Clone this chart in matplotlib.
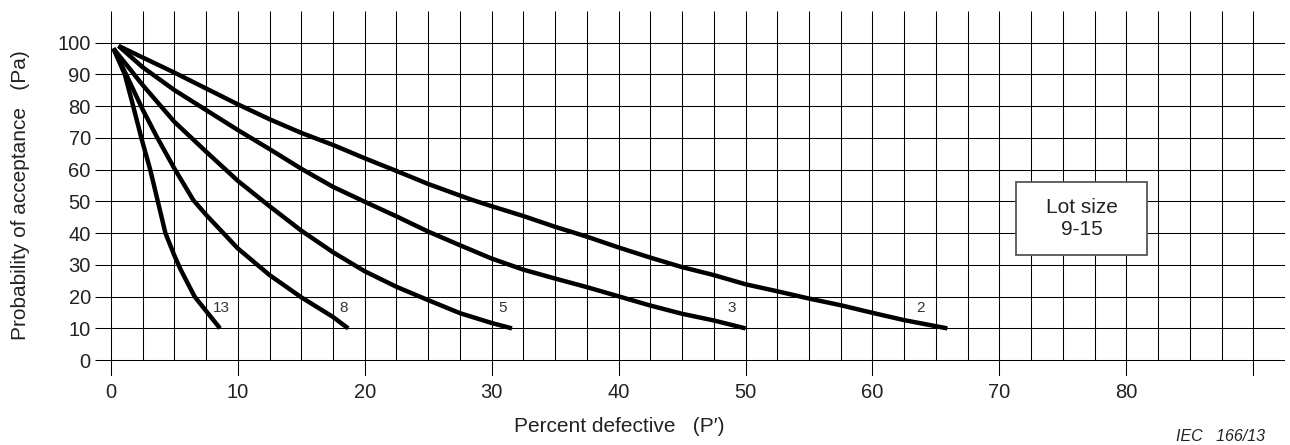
import matplotlib
matplotlib.use("Agg")
import matplotlib.pyplot as plt
from matplotlib.patches import Rectangle

plt.rcParams['font.family'] = ['Liberation Sans', 'DejaVu Sans']

TEXT = '#222222'

# operating characteristic curves, sample size -> (percent defective, Pa)
curve_2_x = [0.6, 5, 7.5, 10, 12.5, 15, 17.5, 20, 22.5, 25, 28.3, 30, 32.5, 35,
             37.5, 40, 42.5, 45, 47.5, 50, 52.5, 55, 57.5, 60, 62.5, 65.9]
curve_2_y = [99, 90.6, 85.6, 80.6, 75.9, 71.6, 67.8, 63.6, 59.6, 55.5, 50.7, 48.5, 45.4, 42,
             38.9, 35.5, 32.3, 29.3, 26.8, 23.9, 21.7, 19.4, 17.3, 14.9, 12.6, 10]

curve_3_x = [0.6, 2.5, 5, 7.5, 10, 12.5, 15, 17.5, 20, 22.5, 25, 27.5, 30, 32.5,
             35, 37.5, 40, 42.5, 45, 47.5, 50]
curve_3_y = [99, 92.3, 85.1, 78.8, 72.5, 66.5, 60.3, 54.6, 49.9, 45.3, 40.5, 36.2, 32, 28.5,
             25.7, 23, 20.1, 17.2, 14.6, 12.5, 10]

curve_5_x = [0.2, 2.5, 5, 7.5, 10, 12.5, 15, 17.5, 20, 22.5, 25, 27.5, 30, 31.6]
curve_5_y = [98.2, 86.7, 75.1, 65.7, 56.5, 48.5, 40.8, 34, 28, 23.1, 18.9, 14.8, 11.7, 10]

curve_8_x = [0.2, 1.2, 2.5, 3.6, 5, 6.5, 7.5, 10, 12.5, 15, 17.5, 18.7]
curve_8_y = [98.2, 90, 79, 70.5, 60.4, 50.4, 45.8, 35.2, 26.8, 19.8, 13.6, 10]

curve_13_x = [0.2, 1.1, 1.76, 2.4, 3.1, 3.7, 4.3, 5.0, 5.5, 6.6, 8.6]
curve_13_y = [98.2, 90, 80, 70, 60, 50, 40, 33, 28.5, 20, 10]

curves = [
    ('2', curve_2_x, curve_2_y, (63.8, 16.3)),
    ('3', curve_3_x, curve_3_y, (48.9, 16.3)),
    ('5', curve_5_x, curve_5_y, (30.9, 16.3)),
    ('8', curve_8_x, curve_8_y, (18.3, 16.3)),
    ('13', curve_13_x, curve_13_y, (8.7, 16.3)),
]

x_ticks = [0, 10, 20, 30, 40, 50, 60, 70, 80]
y_ticks = [0, 10, 20, 30, 40, 50, 60, 70, 80, 90, 100]

fig = plt.figure(figsize=(12.9, 4.45), dpi=100)
ax = fig.add_axes([95 / 1290, 1 - 376 / 445, 1190 / 1290, 365 / 445])
ax.set_xlim(-1.25, 92.5)
ax.set_ylim(-5, 110)
for s in ax.spines.values():
    s.set_visible(False)

# grid: horizontal every 10, vertical every 2.5, decades extend below zero
ax.hlines(y_ticks, -1.25, 92.5, color='black', lw=0.75, zorder=1)
minor = [i * 2.5 for i in range(37)]
for v in minor:
    y0 = -5 if v % 10 == 0 else 0
    ax.vlines(v, y0, 110, color='black', lw=0.75, zorder=1)

for name, xs, ys, (lx, ly) in curves:
    ax.plot(xs, ys, color='black', lw=3.2, solid_capstyle='butt',
            solid_joinstyle='round', zorder=3)
    ax.text(lx, ly, name, ha='center', va='center', fontsize=11, color='#333333', zorder=4)

# lot size box
ax.add_patch(Rectangle((71.3, 33.1), 10.3, 23.0, facecolor='white',
                       edgecolor='#555555', lw=1.3, zorder=5))
ax.text(76.5, 44.7, 'Lot size\n9-15', ha='center', va='center', fontsize=15,
        color=TEXT, linespacing=1.2, zorder=6)

ax.set_xticks(x_ticks)
ax.set_xticklabels([str(v) for v in x_ticks])
ax.set_yticks(y_ticks)
ax.set_yticklabels([str(v) for v in y_ticks])
ax.tick_params(axis='both', length=0, labelsize=14.5, colors=TEXT)
ax.tick_params(axis='x', pad=5)
ax.tick_params(axis='y', pad=3)

fig.text(0.48, 0.041, 'Percent defective   (P\u2032)', ha='center', va='center',
         fontsize=15, color=TEXT)
fig.text(0.016, 0.562, 'Probability of acceptance   (Pa)', ha='center', va='center',
         rotation=90, fontsize=15, color=TEXT)
fig.text(0.981, 0.018, 'IEC   166/13', ha='right', va='center', fontsize=11.5,
         style='italic', color=TEXT)

fig.savefig('out.png', dpi=100)
